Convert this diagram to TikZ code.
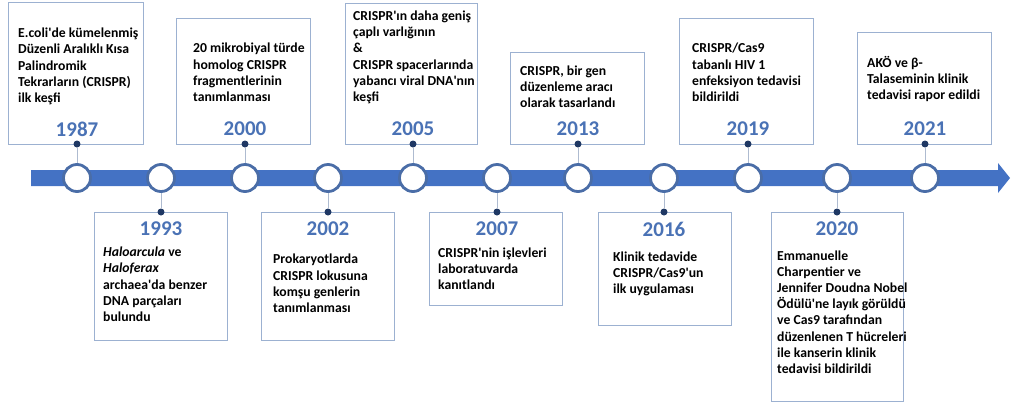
\documentclass[tikz,border=0pt]{standalone}
\usepackage{fontspec}
\setmainfont{Carlito}
\definecolor{bandblue}{HTML}{4472C4}
\definecolor{ringblue}{HTML}{4A6DA7}
\definecolor{yearblue}{HTML}{4A72B5}
\definecolor{boxline}{HTML}{9CB1D1}
\definecolor{dotnavy}{HTML}{1F3864}
\definecolor{stemgrey}{HTML}{AEBBD0}
\newcommand{\apos}{\textquotesingle}

\begin{document}
\begin{tikzpicture}[x=1pt,y=-1pt,
    evbox/.style={draw=boxline,line width=1.1pt,anchor=north west,inner sep=0pt},
    ring/.style={circle,draw=ringblue,line width=2.8pt,fill=white,minimum size=27pt,inner sep=0pt},
    pin/.style={circle,fill=dotnavy,inner sep=0pt,minimum size=7pt},
    year/.style={text=yearblue,inner sep=0pt,font=\bfseries\fontsize{21}{21}\selectfont},
    desc/.style={anchor=base west,align=left,inner sep=0pt,font=\bfseries\fontsize{13.7}{16.2}\selectfont},
    stem/.style={draw=stemgrey,line width=0.8pt}]
        \useasboundingbox (0,0) rectangle (1011,405);
        % time axis
        \fill[bandblue] (31,170) -- (998,170) -- (998,163) -- (1010,178) -- (998,193) -- (998,186) -- (31,186) -- cycle;
        \foreach \yr/\xx in {1987/77,1993/161,2000/245,2002/328,2005/413,2007/497,2013/578,2016/664,2019/748,2020/837,2021/925}
            \node[ring] (r\yr) at (\xx,178) {};
        % boxes above the axis
        \node[evbox,minimum width=135pt,minimum height=142pt] (b1987) at (8,2) {};
        \node[evbox,minimum width=134pt,minimum height=126pt] (b2000) at (176,18) {};
        \node[evbox,minimum width=132pt,minimum height=141pt] (b2005) at (345,3) {};
        \node[evbox,minimum width=134pt,minimum height=92pt] (b2013) at (510,52) {};
        \node[evbox,minimum width=134pt,minimum height=126pt] (b2019) at (679,18) {};
        \node[evbox,minimum width=134pt,minimum height=112pt] (b2021) at (857,32) {};
        % boxes below the axis
        \node[evbox,minimum width=133pt,minimum height=128pt] (b1993) at (94,212) {};
        \node[evbox,minimum width=133pt,minimum height=128pt] (b2002) at (261,212) {};
        \node[evbox,minimum width=133pt,minimum height=93pt] (b2007) at (429,212) {};
        \node[evbox,minimum width=133pt,minimum height=113pt] (b2016) at (598,212) {};
        \node[evbox,minimum width=132pt,minimum height=189pt] (b2020) at (771,212) {};
        % pins and stems
        \foreach \yr/\xx in {1987/77,2000/245,2005/413,2013/578,2019/748,2021/925}{
            \node[pin] (p\yr) at (\xx,144) {};
            \draw[stem] (p\yr) -- (r\yr);
            \node[year] (y\yr) at (\xx,129) {\yr};
        }
        \foreach \yr/\xx in {1993/161,2002/328,2007/497,2016/664,2020/837}{
            \node[pin] (p\yr) at (\xx,212) {};
            \draw[stem] (p\yr) -- (r\yr);
            \node[year] (y\yr) at (\xx,229) {\yr};
        }
        % texts (placed by the baseline of their last line)
        \node[desc] (t1987) at (18,102.5) {E.coli\apos{}de kümelenmiş\\Düzenli Aralıklı Kısa\\Palindromik\\Tekrarların (CRISPR)\\ilk keşfi};
        \node[desc] (t2000) at (193,101.5) {20 mikrobiyal türde\\homolog CRISPR\\fragmentlerinin\\tanımlanması};
        \node[desc] (t2005) at (353,101.5) {CRISPR\apos{}ın daha geniş\\çaplı varlığının\\\&\\CRISPR spacerlarında\\yabancı viral DNA\apos{}nın\\keşfi};
        \node[desc] (t2013) at (520,107.5) {CRISPR, bir gen\\düzenleme aracı\\olarak tasarlandı};
        \node[desc] (t2019) at (692,101.5) {CRISPR/Cas9\\tabanlı HIV 1\\enfeksiyon tedavisi\\bildirildi};
        \node[desc] (t2021) at (867,99.5) {AKÖ ve β-\\Talaseminin klinik\\tedavisi rapor edildi};
        \node[desc] (t1993) at (103,321.5) {\textit{Haloarcula} ve\\\textit{Haloferax}\\archaea\apos{}da benzer\\DNA parçaları\\bulundu};
        \node[desc] (t2002) at (273,312.5) {Prokaryotlarda\\CRISPR lokusuna\\komşu genlerin\\tanımlanması};
        \node[desc] (t2007) at (438,289.5) {CRISPR\apos{}nin işlevleri\\laboratuvarda\\kanıtlandı};
        \node[desc] (t2016) at (613,293.5) {Klinik tedavide\\CRISPR/Cas9\apos{}un\\ilk uygulaması};
        \node[desc] (t2020) at (777,373.5) {Emmanuelle\\Charpentier ve\\Jennifer Doudna Nobel\\Ödülü\apos{}ne layık görüldü\\ve Cas9 tarafından\\düzenlenen T hücreleri\\ile kanserin klinik\\tedavisi bildirildi};
    \end{tikzpicture}
\end{document}
